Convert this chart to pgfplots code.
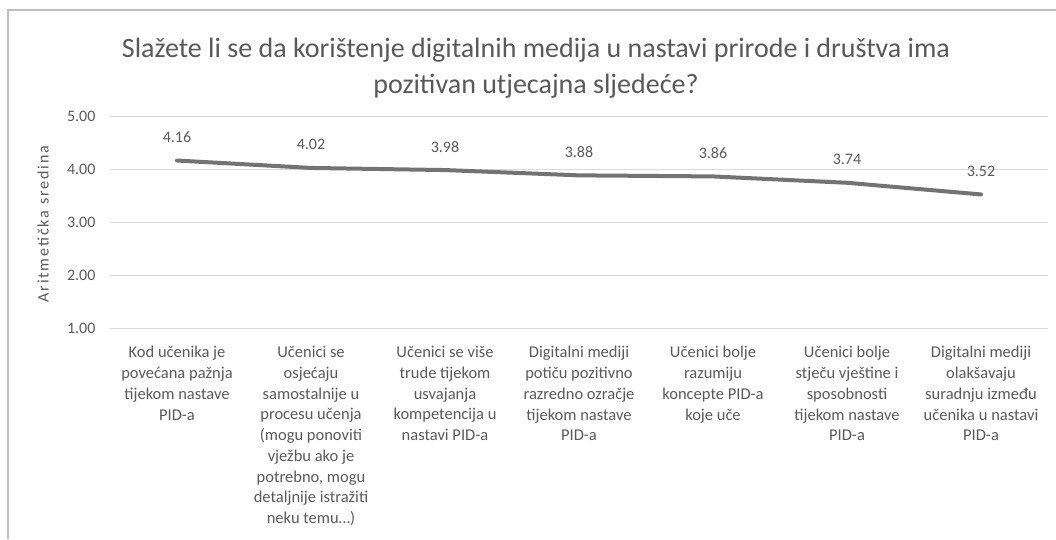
\documentclass[border=0pt]{standalone}
\usepackage{pgfplots}
\pgfplotsset{compat=1.18}
\usepackage{fontspec}
\setmainfont{Carlito}
\newfontfamily\ylabfont[LetterSpace=12]{Carlito}
\definecolor{txt}{HTML}{595959}
\definecolor{gridc}{HTML}{D9D9D9}
\definecolor{linec}{HTML}{737373}
\definecolor{bordc}{HTML}{BFBFBF}
\begin{document}
\begin{tikzpicture}[x=1pt,y=1pt]
\useasboundingbox (0,0) rectangle (1056,539);
\draw[color=bordc, line width=1.2pt] (8,0) -- (8,529) -- (1056,529);
\begin{axis}[
  at={(110pt,211pt)}, anchor=south west,
  scale only axis, width=938pt, height=212pt,
  xmin=-0.5, xmax=6.5, ymin=1, ymax=5,
  ytick={1,2,3,4,5},
  /pgf/number format/assume math mode=true,
  yticklabel style={/pgf/number format/.cd, fixed, fixed zerofill, precision=2, /tikz/.cd,
     font=\fontsize{16}{19}\selectfont, text=txt, xshift=-11pt},
  axis line style={draw=none},
  tick style={draw=none},
  ymajorgrids, grid style={gridc, line width=1pt},
  xtick={0,1,2,3,4,5,6},
  xticklabels={
    {Kod učenika je\\povećana pažnja\\tijekom nastave\\PID-a},
    {Učenici se\\osjećaju\\samostalnije u\\procesu učenja\\(mogu ponoviti\\vježbu ako je\\potrebno, mogu\\detaljnije istražiti\\neku temu…)},
    {Učenici se više\\trude tijekom\\usvajanja\\kompetencija u\\nastavi PID-a},
    {Digitalni mediji\\potiču pozitivno\\razredno ozračje\\tijekom nastave\\PID-a},
    {Učenici bolje\\razumiju\\koncepte PID-a\\koje uče},
    {Učenici bolje\\stječu vještine i\\sposobnosti\\tijekom nastave\\PID-a},
    {Digitalni mediji\\olakšavaju\\suradnju između\\učenika u nastavi\\PID-a}},
  xticklabel style={align=center, font=\fontsize{16.5}{20.7}\selectfont, text=txt, anchor=north, yshift=-15pt},
  ylabel={Aritmetička sredina},
  every axis y label/.style={at={(axis description cs:-0.0714,0.49)}, rotate=90, anchor=center,
     font=\ylabfont\fontsize{16}{19}\selectfont, text=txt},
  clip=false,
]
\addplot[color=linec, line width=4pt, line cap=round, line join=round, mark=none,
  nodes near coords={\pgfmathprintnumber[fixed,fixed zerofill,precision=2]{\pgfplotspointmeta}},
  every node near coord/.append style={anchor=base, yshift=18pt, text=txt, font=\fontsize{16}{19}\selectfont}]
  coordinates {(0,4.16)(1,4.02)(2,3.98)(3,3.88)(4,3.86)(5,3.74)(6,3.52)};
\end{axis}
\node[align=center, text=txt, font=\fontsize{28}{36}\selectfont] at (536,471)
  {Slažete li se da korištenje digitalnih medija u nastavi prirode i društva ima\\pozitivan utjecajna sljedeće?};
\end{tikzpicture}
\end{document}
